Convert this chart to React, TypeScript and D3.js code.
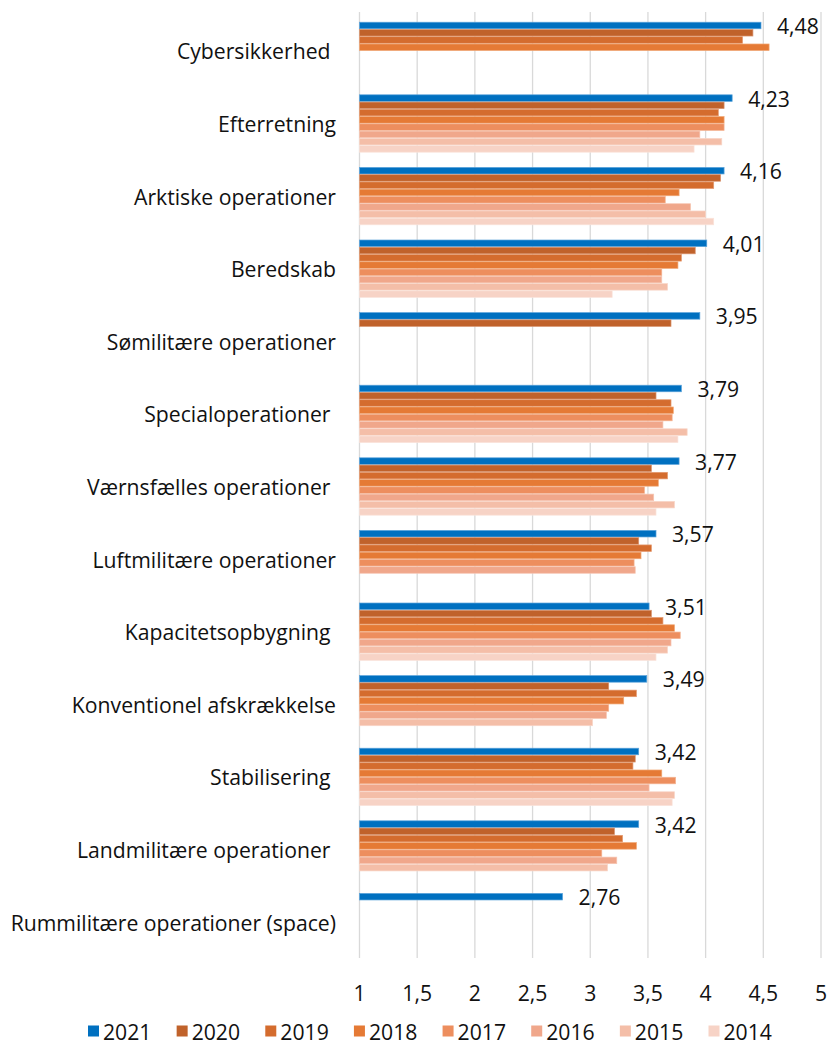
import React from "react";
import * as d3 from "d3";

const categories = [
  "Cybersikkerhed ",
  "Efterretning",
  "Arktiske operationer",
  "Beredskab",
  "Sømilitære operationer",
  "Specialoperationer ",
  "Værnsfælles operationer ",
  "Luftmilitære operationer",
  "Kapacitetsopbygning ",
  "Konventionel afskrækkelse",
  "Stabilisering ",
  "Landmilitære operationer ",
  "Rummilitære operationer (space)",
];

const years = ["2021", "2020", "2019", "2018", "2017", "2016", "2015", "2014"];

const v2021 = [4.48, 4.23, 4.16, 4.01, 3.95, 3.79, 3.77, 3.57, 3.51, 3.49, 3.42, 3.42, 2.76];
const v2020 = [4.41, 4.16, 4.13, 3.91, 3.7, 3.57, 3.53, 3.42, 3.53, 3.16, 3.39, 3.21, null];
const v2019 = [4.32, 4.11, 4.07, 3.79, null, 3.7, 3.67, 3.53, 3.63, 3.4, 3.37, 3.28, null];
const v2018 = [4.55, 4.16, 3.77, 3.76, null, 3.72, 3.59, 3.44, 3.73, 3.29, 3.62, 3.4, null];
const v2017 = [null, 4.16, 3.65, 3.62, null, 3.71, 3.47, 3.38, 3.78, 3.16, 3.74, 3.1, null];
const v2016 = [null, 3.95, 3.87, 3.62, null, 3.63, 3.55, 3.39, 3.7, 3.14, 3.51, 3.23, null];
const v2015 = [null, 4.14, 4.0, 3.67, null, 3.84, 3.73, null, 3.67, 3.02, 3.73, 3.15, null];
const v2014 = [null, 3.9, 4.07, 3.19, null, 3.76, 3.57, null, 3.57, null, 3.71, null, null];

const seriesValues: (number | null)[][] = [v2021, v2020, v2019, v2018, v2017, v2016, v2015, v2014];

const xTicks = [1, 1.5, 2, 2.5, 3, 3.5, 4, 4.5, 5];

const colors = ["#0070C0", "#C0622B", "#D46C2E", "#E57A35", "#ED8E5E", "#F0A78B", "#F4BEA8", "#F7D3C6"];
const strokes = ["#5BA3DA", "#D89470", "#E49A70", "#F0A775", "#F4B493", "#F6C6B3", "#F8D6C8", "#FAE3DA"];

const W = 830;
const H = 1052;
const FONT = "'Open Sans', sans-serif";
const FS = 21.2;

const locale = d3.formatLocale({ decimal: ",", thousands: ".", grouping: [3], currency: ["", ""] });
const fmtTick = locale.format("~g");
const fmtLabel = locale.format(".2f");

export default function App() {
  const x = d3.scaleLinear().domain([1, 5]).range([359.5, 821]);
  const y = d3.scaleBand<string>().domain(categories).range([14.6, 958.4]).padding(0);
  const inner = d3
    .scaleBand<string>()
    .domain(years)
    .range([0, y.bandwidth()])
    .paddingInner(0)
    .paddingOuter(1);

  const legendX = d3.scalePoint<string>().domain(years).range([88, 708.5]);

  return (
    <svg
      width={W}
      height={H}
      style={{ position: "absolute", left: 0, top: 0, background: "#fff" }}
      fontFamily={FONT}
    >
      <rect x={0} y={0} width={W} height={H} fill="#fff" />
      {xTicks.map((t) => (
        <line
          key={"g" + t}
          x1={x(t)}
          x2={x(t)}
          y1={12}
          y2={958}
          stroke="#D9D9D9"
          strokeWidth={1.3}
        />
      ))}
      {categories.map((c, ci) => (
        <g key={c} transform={`translate(0,${y(c)})`}>
          {years.map((yr, si) => {
            const v = seriesValues[si][ci];
            if (v == null) return null;
            return (
              <rect
                key={yr}
                x={x(1)}
                y={(inner(yr) as number) + 0.35}
                width={x(v) - x(1)}
                height={inner.bandwidth() - 0.7}
                fill={colors[si]}
                stroke={strokes[si]}
                strokeWidth={0.7}
              />
            );
          })}
          <text
            x={336}
            y={y.bandwidth() / 2}
            textAnchor="end"
            dominantBaseline="central"
            fontSize={FS}
            fill="#111"
            style={{ whiteSpace: "pre" }}
          >
            {c}
          </text>
          <text
            x={x(v2021[ci] as number) + 16}
            y={(inner("2021") as number) + inner.bandwidth() / 2}
            dominantBaseline="central"
            fontSize={FS}
            fill="#111"
          >
            {fmtLabel(v2021[ci] as number)}
          </text>
        </g>
      ))}
      {xTicks.map((t) => (
        <text
          key={"t" + t}
          x={x(t)}
          y={992}
          textAnchor="middle"
          dominantBaseline="central"
          fontSize={FS}
          fill="#111"
        >
          {fmtTick(t)}
        </text>
      ))}
      {years.map((yr, si) => (
        <g key={"l" + yr} transform={`translate(${legendX(yr)},1031)`}>
          <rect x={0} y={-5.5} width={11} height={11} fill={colors[si]} />
          <text x={15} y={0} dominantBaseline="central" fontSize={FS} fill="#111">
            {yr}
          </text>
        </g>
      ))}
    </svg>
  );
}
